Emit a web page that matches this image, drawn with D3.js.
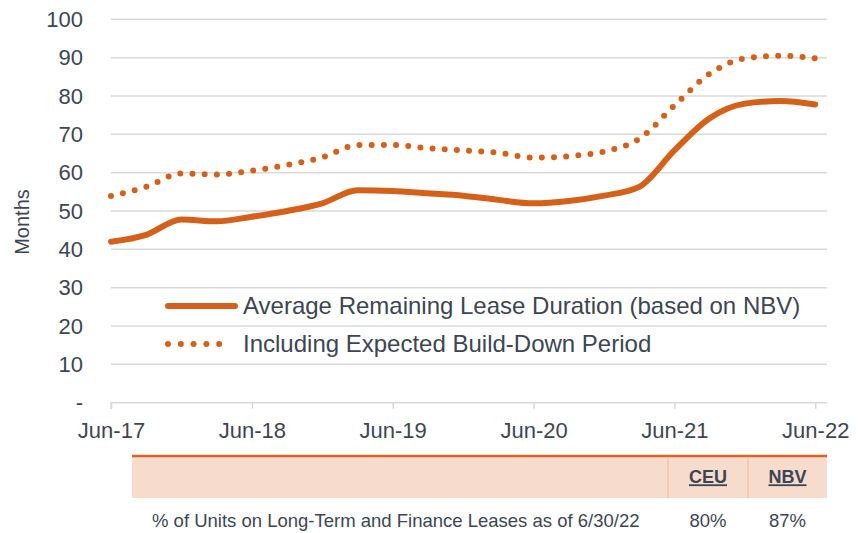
<!DOCTYPE html>
<html>
<head>
<meta charset="utf-8">
<script src="https://cdn.jsdelivr.net/npm/d3@7"></script>
<style>
  body { margin: 0; background: #fff; }
  svg text { font-family: "Liberation Sans", Arial, sans-serif; fill: #3c4653; }
</style>
</head>
<body>
<div id="chart"></div>
<script>
// months since Jun-17, quarterly
var months = [0, 3, 6, 9, 12, 15, 18, 21, 24, 27, 30, 33, 36, 39, 42, 45, 48, 51, 54, 57, 60];
var avgLease = [42.0, 43.8, 47.8, 47.3, 48.5, 50.0, 52.0, 55.4, 55.2, 54.6, 54.0, 52.9, 52.0, 52.6, 54.0, 56.3, 65.8, 74.2, 78.0, 78.7, 77.8];
var withBuildDown = [53.9, 56.3, 59.8, 59.5, 60.5, 62.0, 64.0, 67.2, 67.2, 66.4, 65.8, 65.2, 63.9, 64.3, 65.5, 68.8, 77.5, 85.8, 89.8, 90.5, 89.8];

var xTickMonths = [0, 12, 24, 36, 48, 60];
var xTickLabels = ["Jun-17", "Jun-18", "Jun-19", "Jun-20", "Jun-21", "Jun-22"];
var yTicks = [0, 10, 20, 30, 40, 50, 60, 70, 80, 90, 100];
var seriesNames = ["Average Remaining Lease Duration (based on NBV)", "Including Expected Build-Down Period"];

var tableHeaders = ["CEU", "NBV"];
var tableRowLabel = "% of Units on Long-Term and Finance Leases as of 6/30/22";
var tableValues = ["80%", "87%"];

const orange = "#d5601a";
const gridColor = "#d9d9d9";

var width = 858, height = 533;
var svg = d3.select("#chart").append("svg")
  .attr("width", width)
  .attr("height", height);

var x = d3.scaleLinear().domain([0, 61]).range([111, 827]);
var y = d3.scaleLinear().domain([0, 100]).range([402.7, 19.3]);

// gridlines
svg.append("g")
  .selectAll("line")
  .data(yTicks.filter(function(d) { return d > 0; }))
  .enter()
  .append("line")
  .attr("x1", x(0))
  .attr("x2", x(61))
  .attr("y1", function(d) { return y(d); })
  .attr("y2", function(d) { return y(d); })
  .attr("stroke", gridColor)
  .attr("stroke-width", 1.5);

// y labels
svg.append("g")
  .selectAll("text")
  .data(yTicks)
  .enter()
  .append("text")
  .attr("x", 83)
  .attr("y", function(d) { return y(d); })
  .attr("dy", "0.35em")
  .attr("text-anchor", "end")
  .style("font-size", "22px")
  .text(function(d) { return d == 0 ? "-" : d; });

svg.append("text")
  .attr("transform", "translate(29,222) rotate(-90)")
  .attr("text-anchor", "middle")
  .style("font-size", "20px")
  .text("Months");

// x axis
var xAxis = d3.axisBottom(x)
  .tickValues(xTickMonths)
  .tickSize(6)
  .tickFormat(function(d, i) { return xTickLabels[i]; });

var gx = svg.append("g")
  .attr("transform", `translate(0, ${y(0)})`)
  .call(xAxis);
gx.select(".domain").attr("stroke", gridColor).attr("stroke-width", 1.5)
  .attr("d", `M${x(0)},6V0H${x(61)}`);
gx.selectAll(".tick line").attr("stroke", gridColor).attr("stroke-width", 1.5);
gx.selectAll(".tick text")
  .attr("y", 28)
  .attr("dy", "0.35em")
  .style("font-size", "22px")
  .style("font-family", "Liberation Sans, Arial, sans-serif")
  .attr("fill", "#3c4653");

// lines
var line = d3.line()
  .x(function(d) { return x(d[0]); })
  .y(function(d) { return y(d[1]); })
  .curve(d3.curveMonotoneX);

svg.append("path")
  .datum(months.map(function(m, i) { return [m, withBuildDown[i]]; }))
  .attr("d", line)
  .attr("fill", "none")
  .attr("stroke", orange)
  .attr("stroke-width", 6)
  .attr("stroke-linecap", "round")
  .attr("stroke-dasharray", "0 12.2");

svg.append("path")
  .datum(months.map(function(m, i) { return [m, avgLease[i]]; }))
  .attr("d", line)
  .attr("fill", "none")
  .attr("stroke", orange)
  .attr("stroke-width", 6)
  .attr("stroke-linecap", "round");

// legend
var legend = svg.append("g");
var legY = [306, 344];
legend.append("line")
  .attr("x1", 168).attr("x2", 235)
  .attr("y1", legY[0]).attr("y2", legY[0])
  .attr("stroke", orange).attr("stroke-width", 6).attr("stroke-linecap", "round");
legend.append("line")
  .attr("x1", 168).attr("x2", 232)
  .attr("y1", legY[1]).attr("y2", legY[1])
  .attr("stroke", orange).attr("stroke-width", 6).attr("stroke-linecap", "round")
  .attr("stroke-dasharray", "0 12.8");
legend.selectAll("text")
  .data(seriesNames)
  .enter()
  .append("text")
  .attr("x", 243)
  .attr("y", function(d, i) { return legY[i]; })
  .attr("dy", "0.35em")
  .style("font-size", "24px")
  .text(function(d) { return d; });

// table
var table = svg.append("g");
var colX = [668, 748, 827];
table.append("rect")
  .attr("x", 132).attr("y", 456)
  .attr("width", colX[2] - 132).attr("height", 42)
  .attr("fill", "#f7dccd");
table.append("line")
  .attr("x1", 132).attr("x2", colX[2])
  .attr("y1", 456).attr("y2", 456)
  .attr("stroke", "#d9651f").attr("stroke-width", 2.5);
table.selectAll(".sep")
  .data(colX.slice(0, 2))
  .enter()
  .append("line")
  .attr("class", "sep")
  .attr("x1", function(d) { return d; }).attr("x2", function(d) { return d; })
  .attr("y1", 457).attr("y2", 498)
  .attr("stroke", "#f1b894").attr("stroke-width", 1);
table.selectAll(".hdr")
  .data(tableHeaders)
  .enter()
  .append("text")
  .attr("class", "hdr")
  .attr("x", function(d, i) { return (colX[i] + colX[i + 1]) / 2; })
  .attr("y", 477)
  .attr("dy", "0.35em")
  .attr("text-anchor", "middle")
  .style("font-size", "18px")
  .style("font-weight", "bold")
  .style("text-decoration", "underline")
  .text(function(d) { return d; });
table.append("text")
  .attr("x", 152).attr("y", 521)
  .attr("dy", "0.35em")
  .style("font-size", "18.5px")
  .text(tableRowLabel);
table.selectAll(".val")
  .data(tableValues)
  .enter()
  .append("text")
  .attr("class", "val")
  .attr("x", function(d, i) { return (colX[i] + colX[i + 1]) / 2; })
  .attr("y", 521)
  .attr("dy", "0.35em")
  .attr("text-anchor", "middle")
  .style("font-size", "18.5px")
  .text(function(d) { return d; });
</script>
</body>
</html>
